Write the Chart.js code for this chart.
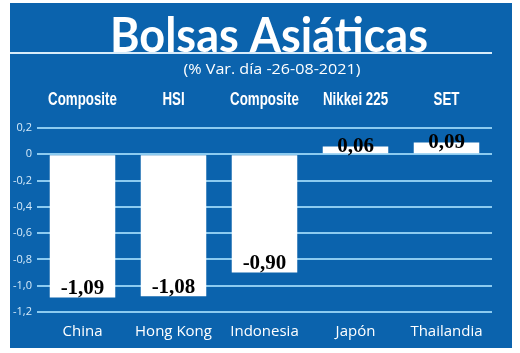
<!DOCTYPE html>
<html>
<head>
<meta charset="utf-8">
<script src="https://cdn.jsdelivr.net/npm/chart.js@4"></script>
<style>
  html, body { margin: 0; padding: 0; background: #fff; }
  #wrap { width: 520px; height: 353px; }
</style>
</head>
<body>
<div id="wrap"><canvas id="bolsas-chart" width="520" height="353"></canvas></div>
<script>
  'use strict';
  const countries = ['China', 'Hong Kong', 'Indonesia', 'Japón', 'Thailandia'];
  const indexNames = ['Composite', 'HSI', 'Composite', 'Nikkei 225', 'SET'];
  const changes = [-1.09, -1.08, -0.90, 0.06, 0.09];
  const yTicks = [0.2, 0, -0.2, -0.4, -0.6, -0.8, -1.0, -1.2];

  const panelBlue = '#0b63ad';
  const gridBlue = '#8ccbf0';

  const tickFmt = function (v) {
    if (Math.abs(v) < 1e-9) return '0';
    return v.toFixed(1).replace('.', ',');
  };

  // draw text squeezed to a width (or by a factor when width < 1)
  function fitText(ctx, text, cx, cy, font, width, color) {
    ctx.save();
    ctx.font = font;
    ctx.fillStyle = color;
    ctx.textAlign = 'center';
    ctx.textBaseline = 'middle';
    const w = ctx.measureText(text).width;
    const s = width < 1 ? width : width / w;
    ctx.translate(cx, cy);
    ctx.scale(s, 1);
    ctx.fillText(text, 0, 0);
    ctx.restore();
  }

  const panelPlugin = {
    id: 'panel',
    beforeDraw: function (chart) {
      const ctx = chart.ctx;
      ctx.save();
      ctx.fillStyle = panelBlue;
      ctx.fillRect(10, 3, 502, 345);
      ctx.fillStyle = '#d8ecfa';
      ctx.fillRect(10, 52, 482, 2);
      ctx.restore();
      fitText(ctx, 'Bolsas Asiáticas', 269, 37, 'bold 48px Lato', 318, '#ffffff');
      fitText(ctx, '(% Var. día -26-08-2021)', 272, 70, '15px "Open Sans"', 177, '#ffffff');
    },
    afterDraw: function (chart) {
      // index names over each column
      const top = chart.scales.xTop;
      indexNames.forEach(function (name, i) {
        fitText(chart.ctx, name, top.getPixelForValue(i), 100, 'bold 18px "Liberation Sans"', 0.74, '#ffffff');
      });
    }
  };

  const valuePlugin = {
    id: 'values',
    afterDatasetsDraw: function (chart) {
      const ctx = chart.ctx;
      const meta = chart.getDatasetMeta(0);
      ctx.save();
      ctx.font = 'bold 21px "Liberation Serif"';
      ctx.fillStyle = '#000';
      ctx.textAlign = 'center';
      ctx.textBaseline = 'middle';
      meta.data.forEach(function (bar, i) {
        const v = changes[i];
        const y = v < 0 ? bar.y - 9 : bar.y;
        ctx.fillText(v.toFixed(2).replace('.', ','), bar.x, y);
      });
      ctx.restore();
    }
  };

  new Chart(document.getElementById('bolsas-chart'), {
    type: 'bar',
    data: {
      labels: countries,
      datasets: [{
        data: changes,
        backgroundColor: '#ffffff',
        borderWidth: 0,
        barPercentage: 0.72,
        categoryPercentage: 1,
        xAxisID: 'x',
        yAxisID: 'y'
      }]
    },
    options: {
      responsive: false,
      animation: false,
      layout: { padding: { left: 0, right: 28, top: 0, bottom: 0 } },
      scales: {
        y: {
          min: -1.2,
          max: 0.2,
          afterBuildTicks: function (scale) {
            scale.ticks = yTicks.map(function (v) { return { value: v }; });
          },
          afterFit: function (scale) { scale.width = 37; },
          border: { display: false },
          grid: { color: gridBlue, lineWidth: 2, drawTicks: false },
          ticks: {
            color: '#d6ebfa',
            padding: 5,
            font: { family: '"Open Sans"', size: 11 },
            callback: function (v) { return tickFmt(v); }
          }
        },
        x: {
          position: 'bottom',
          afterFit: function (scale) { scale.height = 41; },
          border: { display: false },
          grid: { display: false },
          ticks: {
            color: '#ffffff',
            padding: 3,
            maxRotation: 0,
            font: { family: '"Open Sans"', size: 15 }
          }
        },
        xTop: {
          type: 'category',
          position: 'top',
          labels: indexNames,
          afterFit: function (scale) { scale.height = 128; },
          border: { display: false },
          grid: { display: false },
          ticks: { display: false }
        }
      },
      plugins: {
        legend: { display: false },
        tooltip: { enabled: false }
      }
    },
    plugins: [panelPlugin, valuePlugin]
  });
</script>
</body>
</html>
